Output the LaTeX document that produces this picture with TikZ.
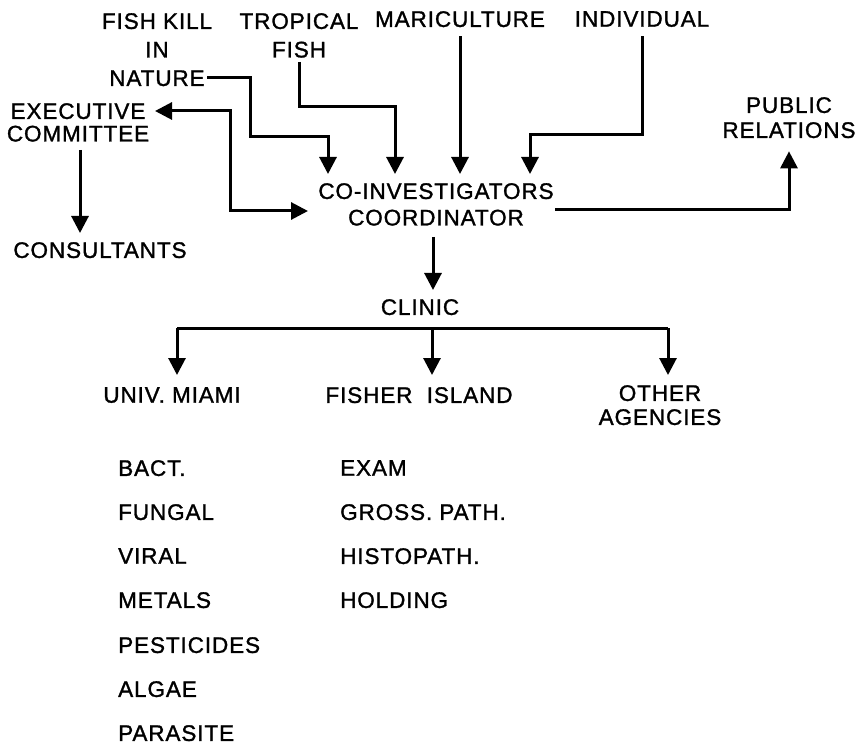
\documentclass[tikz,border=0pt]{standalone}
\usepackage{fontspec}
\setmainfont[FakeBold=1.3,LetterSpace=4]{Liberation Sans}
\usetikzlibrary{arrows.meta}
\begin{document}
\begin{tikzpicture}[x=1pt,y=-1pt,
  lbl/.style={font=\fontsize{22.5}{28.5}\selectfont, inner sep=0pt, align=center, anchor=north},
  item/.style={font=\fontsize{22.5}{28}\selectfont, inner sep=0pt, anchor=north west},
  conn/.style={line width=3pt},
  arr/.style={conn, -{Triangle[width=17pt,length=17pt]}},
  darr/.style={conn, {Triangle[width=17pt,length=17pt]}-{Triangle[width=17pt,length=17pt]}}]
\useasboundingbox (0,0) rectangle (857,746);
% sources
\node[lbl] (fishkill) at (157,13) {FISH KILL\\IN\\NATURE};
\node[lbl] (tropical) at (299,13) {TROPICAL\\FISH};
\node[lbl] (mari) at (460,11) {MARICULTURE};
\node[lbl] (indiv) at (642,11) {INDIVIDUAL};
\node[lbl, font=\fontsize{22.5}{22.5}\selectfont] (exec) at (78,103) {EXECUTIVE\\COMMITTEE};
\node[lbl] (consult) at (100,242) {CONSULTANTS};
\node[lbl, font=\fontsize{22.5}{26.5}\selectfont] (coinv) at (436,183) {CO-INVESTIGATORS\\COORDINATOR};
\node[lbl, font=\fontsize{22.5}{25}\selectfont] (public) at (789,97) {PUBLIC\\RELATIONS};
\node[lbl] (clinic) at (420,299) {CLINIC};
\node[lbl] (miami) at (172,387) {UNIV.\ MIAMI};
\node[lbl] (fisher) at (419,387) {FISHER\ \ ISLAND};
\node[lbl, font=\fontsize{22.5}{24}\selectfont] (other) at (660,385) {OTHER\\AGENCIES};
% lists
\node[item] (bact) at (118,460) {BACT.};
\node[item] (fungal) at (118,504) {FUNGAL};
\node[item] (viral) at (118,548) {VIRAL};
\node[item] (metals) at (118,592) {METALS};
\node[item] (pest) at (118,637) {PESTICIDES};
\node[item] (algae) at (118,681) {ALGAE};
\node[item] (para) at (118,725) {PARASITE};
\node[item] (exam) at (340,460) {EXAM};
\node[item] (gross) at (340,504) {GROSS. PATH.};
\node[item] (histo) at (340,548) {HISTOPATH.};
\node[item] (hold) at (340,592) {HOLDING};
% connectors
\coordinate (natend) at (207,78);
\draw[arr, shorten >=9pt] (natend) -| (250,137) -| (328,137 |- coinv.north);
\draw[arr, shorten >=9pt] ([yshift=-4pt]tropical.south) |- (395,107) -- (395,107 |- coinv.north);
\draw[arr, shorten >=9pt] ([yshift=-9pt]mari.south) -- (mari.south |- coinv.north);
\draw[arr, shorten >=9pt] ([yshift=-9pt]indiv.south) |- (530,135) -- (530,135 |- coinv.north);
\coordinate (execin) at (155,111);
\coordinate (coinvin) at (308,211);
\draw[darr] (execin) -| (230,211) -- (coinvin);
\draw[arr, shorten >=9pt] ([xshift=2pt,yshift=-8pt]exec.south) -- ([xshift=2pt]exec.south |- consult.north);
\coordinate (prout) at (555,210);
\draw[arr, shorten >=13pt] (prout) -| (public.south);
\draw[arr, shorten >=9pt] ([xshift=-3pt,yshift=-11pt]coinv.south) -- ([xshift=-3pt]coinv.south |- clinic.north);
\coordinate (busL) at (177,328);
\coordinate (busM) at (432,328);
\coordinate (busR) at (668,328);
\draw[conn] (busL) -- (busR);
\draw[arr, shorten >=12pt] (busL) -- (busL |- miami.north);
\draw[arr, shorten >=12pt] (busM) -- (busM |- fisher.north);
\draw[arr, shorten >=10pt] (busR) -- (busR |- other.north);
\end{tikzpicture}
\end{document}
